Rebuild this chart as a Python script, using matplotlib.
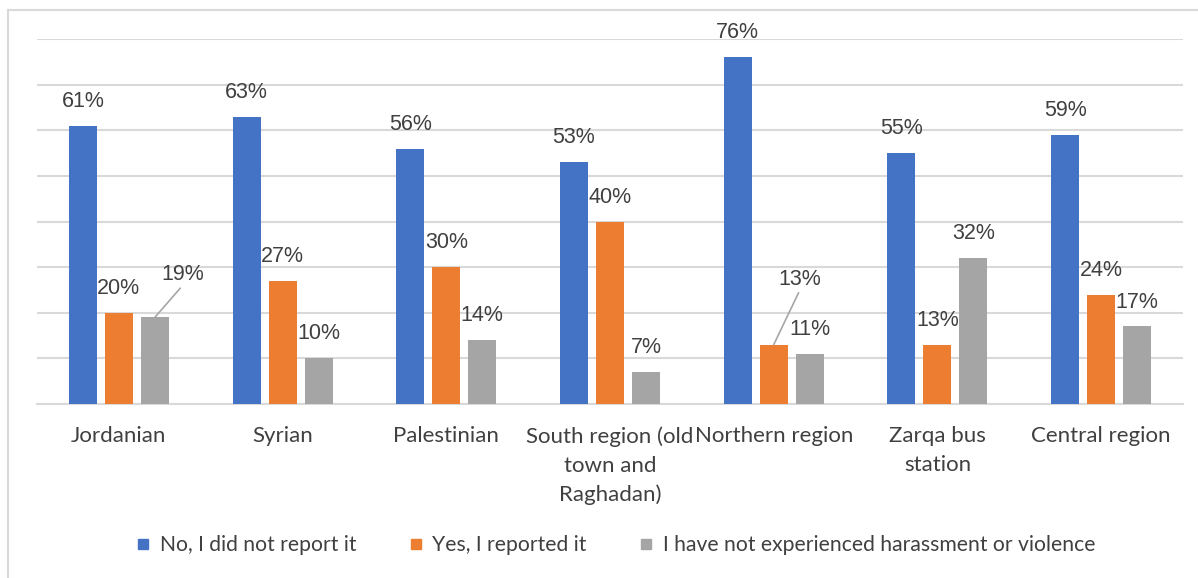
import matplotlib
matplotlib.use("Agg")
import matplotlib.pyplot as plt
import numpy as np
from matplotlib.lines import Line2D

categories = ["Jordanian", "Syrian", "Palestinian", "South region (old\ntown and\nRaghadan)",
              "Northern region", "Zarqa bus\nstation", "Central region"]
series_names = ["No, I did not report it", "Yes, I reported it",
                "I have not experienced harassment or violence"]
no_report = [61, 63, 56, 53, 76, 55, 59]
yes_report = [20, 27, 30, 40, 13, 13, 24]
not_experienced = [19, 10, 14, 7, 11, 32, 17]
colors = ["#4472C4", "#ED7D31", "#A5A5A5"]

W, H = 1198, 578
fig = plt.figure(figsize=(W / 100, H / 100), dpi=100)
ax = fig.add_axes([37 / W, 1 - 404 / H, (1183 - 37) / W, (404 - 39) / H])

x = np.arange(len(categories))
bw = 0.171
step = 0.22
series = [no_report, yes_report, not_experienced]
txt_color = "#404040"
val_font = ["Liberation Sans", "DejaVu Sans"]
cat_font = ["Lato", "DejaVu Sans"]
vfs = 15.5

for i, (vals, col) in enumerate(zip(series, colors)):
    xs = x + (i - 1) * step
    ax.bar(xs, vals, width=bw, color=col, zorder=3)
    for j, (xx, v) in enumerate(zip(xs, vals)):
        special = (i == 2 and j == 0) or (i == 1 and j == 4)
        if special:
            dx, dy = (0.17, 7.0) if j == 0 else (0.16, 12.0)
            ax.annotate(f"{v}%", xy=(xx, v), xytext=(xx + dx, v + dy),
                        ha="center", va="bottom", fontsize=vfs, color=txt_color,
                        family=val_font, zorder=4,
                        arrowprops=dict(arrowstyle="-", color="#A6A6A6", lw=1.2,
                                        shrinkA=0, shrinkB=0,
                                        relpos=(0.5, 0.0)))
        else:
            ax.annotate(f"{v}%", xy=(xx, v), xytext=(0, 10), textcoords="offset points",
                        ha="center", va="bottom", fontsize=vfs, color=txt_color,
                        family=val_font, zorder=4)

ax.set_xlim(-0.5, len(categories) - 0.5)
ax.set_ylim(0, 80)
ax.set_yticks(np.arange(0, 81, 10))
ax.yaxis.grid(True, color="#D9D9D9", lw=1.5, zorder=0)
ax.tick_params(axis="y", left=False, labelleft=False)
ax.set_xticks(x)
ax.set_xticklabels(categories, fontsize=16, color=txt_color, family=cat_font,
                   linespacing=1.55, va="top")
ax.tick_params(axis="x", length=0, pad=16)
for s in ["top", "right", "left"]:
    ax.spines[s].set_visible(False)
ax.spines["bottom"].set_color("#D9D9D9")
ax.spines["bottom"].set_linewidth(1.5)

handles = [Line2D([], [], marker="s", linestyle="none", markersize=7.5,
                  markerfacecolor=c, markeredgecolor=c) for c in colors]
leg = fig.legend(handles, series_names, loc="center", bbox_to_anchor=(615 / W, 1 - 545 / H),
                 ncol=3, frameon=False, prop={"family": cat_font, "size": 15.2},
                 handletextpad=0.4, columnspacing=2.4, handlelength=0.8)
for t in leg.get_texts():
    t.set_color(txt_color)

# outer chart frame
fig.add_artist(Line2D([7.5 / W, 1.0], [1 - 9.5 / H, 1 - 9.5 / H], transform=fig.transFigure,
                      color="#D9D9D9", lw=1.5))
fig.add_artist(Line2D([7.5 / W, 7.5 / W], [0, 1 - 9.5 / H], transform=fig.transFigure,
                      color="#D9D9D9", lw=1.5))

fig.savefig("out.png", dpi=100)
